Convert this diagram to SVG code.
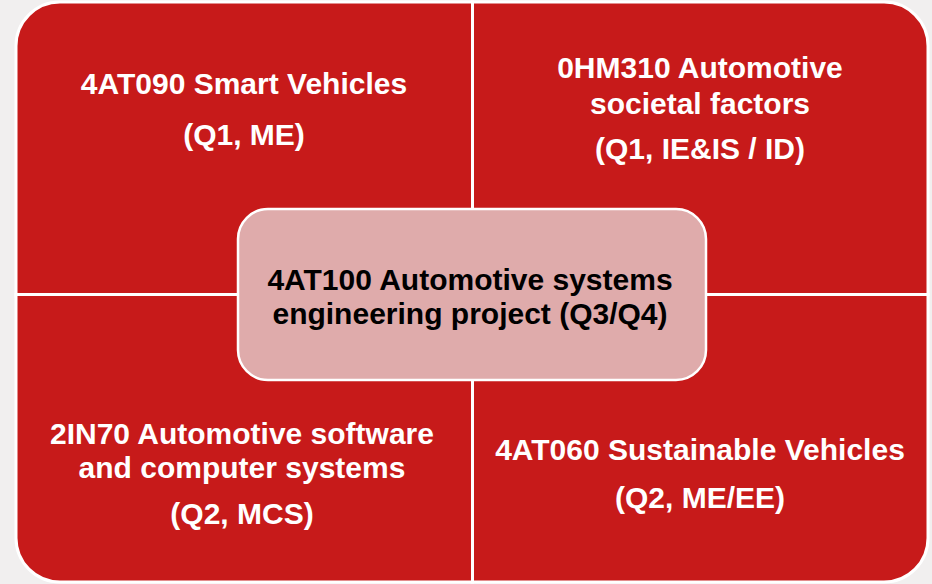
<svg xmlns="http://www.w3.org/2000/svg" width="932" height="584" viewBox="0 0 932 584">
<style>
.q{fill:#c71a1a;stroke:#ffffff;stroke-width:3}
.c{fill:#dfabab;stroke:#ffffff;stroke-width:2.5}
.t{font-family:"Liberation Sans",Arial,sans-serif;font-weight:bold;font-size:30px;text-anchor:middle}
.w{fill:#ffffff}
.b{fill:#000000}
</style>
<rect x="0" y="0" width="932" height="584" fill="#f1efef"/>
<g id="q-top-left">
<path class="q" d="M16,296 V46 A44,44 0 0 1 60,2 H472.5 V294.5 Z"/>
<text class="t w" x="244" y="94">4AT090 Smart Vehicles</text>
<text class="t w" x="244" y="145">(Q1, ME)</text>
</g>
<g id="q-top-right">
<path class="q" d="M472.5,2 H884 A44,44 0 0 1 928,46 V294.5 H472.5 Z"/>
<text class="t w" x="700" y="78">0HM310 Automotive</text>
<text class="t w" x="700" y="114">societal factors</text>
<text class="t w" x="700" y="159">(Q1, IE&amp;IS / ID)</text>
</g>
<g id="q-bottom-left">
<path class="q" d="M16,294.5 H472.5 V582 H60 A44,44 0 0 1 16,538 Z"/>
<text class="t w" x="242" y="444">2IN70 Automotive software</text>
<text class="t w" x="242" y="478">and computer systems</text>
<text class="t w" x="242" y="524">(Q2, MCS)</text>
</g>
<g id="q-bottom-right">
<path class="q" d="M472.5,294.5 H928 V538 A44,44 0 0 1 884,582 H472.5 Z"/>
<text class="t w" x="700" y="460">4AT060 Sustainable Vehicles</text>
<text class="t w" x="700" y="508">(Q2, ME/EE)</text>
</g>
<g id="center">
<rect class="c" x="238" y="209" width="468" height="171" rx="30" ry="30"/>
<text class="t b" x="470" y="290">4AT100 Automotive systems</text>
<text class="t b" x="470" y="324">engineering project (Q3/Q4)</text>
</g>
<g id="connectors"></g>
</svg>
